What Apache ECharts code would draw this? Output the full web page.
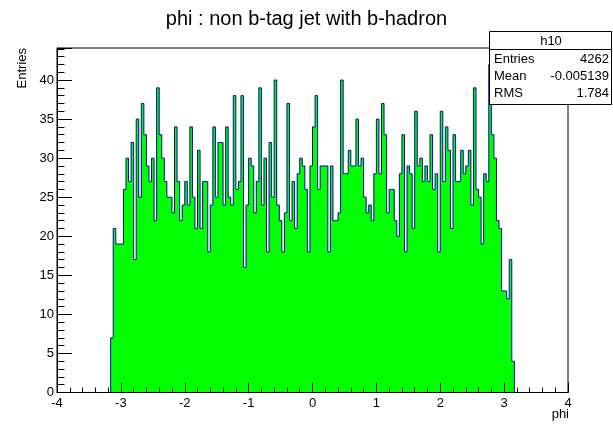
<!DOCTYPE html>
<html>
<head>
<meta charset="utf-8">
<script src="https://cdn.jsdelivr.net/npm/echarts@6/dist/echarts.min.js"></script>
<style>
html,body{margin:0;padding:0;background:#fff;}
#chart{width:613px;height:425px;}
</style>
</head>
<body>
<div id="chart"></div>
<script>
// Histogram h10: 200 bins from -4 to 4 (width 0.04); populated bins start at -3.16
const xRange = [-4, 4];
const firstBinEdge = -3.16;
const binWidth = 0.04;
const counts = [
  7, 21, 19, 19, 19, 26, 30, 27, 32, 17, 35, 25, 37, 33, 29, 27, 30, 22, 39, 33,
  30, 27, 25, 25, 23, 34, 27, 22, 24, 27, 24, 34, 25, 21, 31, 21, 27, 27, 18, 24,
  34, 25, 32, 32, 24, 34, 25, 24, 38, 26, 27, 38, 16,
  24, 30, 29, 23, 27, 39, 24, 30, 18, 32, 25, 40, 24, 22, 18, 23, 37, 22, 27, 21,
  28, 30, 29, 26, 18, 29, 34, 38, 26, 29, 29, 29, 18, 29, 22, 22, 23, 40, 28, 28,
  31, 29, 29, 35, 29, 30, 25, 23, 24, 22, 28, 35, 28, 37,
  33, 23, 26, 26, 22, 20, 28, 33, 18, 29, 28, 21, 36, 29, 30, 27, 29, 27, 33, 26,
  28, 18, 36, 27, 34, 31, 21, 33, 27, 27, 31, 28, 29, 31, 24, 39, 26, 25, 19, 28,
  27, 42, 33, 30, 22, 21,
  13, 13, 12, 17, 4
];
const titleText = 'phi : non b-tag jet with b-hadron';
const xTitle = 'phi';
const yTitle = 'Entries';
const statsName = 'h10';
const statsLabels = ['Entries', 'Mean', 'RMS'];
const statsValues = ['4262', '-0.005139', '1.784'];

const yMax = Math.max.apply(null, counts) * 1.05;

// step outline points: left edge of each bin with its count
const pts = [[firstBinEdge, 0]];
counts.forEach(function (c, i) {
  pts.push([+(firstBinEdge + i * binWidth).toFixed(4), c]);
});
pts.push([+(firstBinEdge + counts.length * binWidth).toFixed(4), 0]);

const FONT = "'Liberation Sans', Arial, Helvetica, sans-serif";
const chart = echarts.init(document.getElementById('chart'), null, {renderer: 'canvas'});

const statsElems = [
  {type: 'rect', z: 100, shape: {x: 489.5, y: 31.5, width: 122, height: 73},
   style: {fill: '#fff', stroke: '#000', lineWidth: 1}},
  {type: 'line', z: 101, shape: {x1: 489.5, y1: 49.5, x2: 611.5, y2: 49.5},
   style: {stroke: '#000', lineWidth: 1}},
  {type: 'text', z: 102, x: 551, y: 41,
   style: {text: statsName, font: '13px ' + FONT, fill: '#000', align: 'center', verticalAlign: 'middle'}}
];
statsLabels.forEach(function (lab, i) {
  const yy = 59 + i * 17.3;
  statsElems.push({type: 'text', z: 102, x: 494, y: yy,
    style: {text: lab, font: '13px ' + FONT, fill: '#000', align: 'left', verticalAlign: 'middle'}});
  statsElems.push({type: 'text', z: 102, x: 609, y: yy,
    style: {text: statsValues[i], font: '13px ' + FONT, fill: '#000', align: 'right', verticalAlign: 'middle'}});
});

const option = {
  animation: false,
  backgroundColor: '#fff',
  title: {
    text: titleText, left: 'center', top: 9, padding: 0,
    textStyle: {fontFamily: FONT, fontSize: 20, fontWeight: 'normal', color: '#000'}
  },
  grid: {left: 57, right: 45, top: 48, bottom: 32.5, show: true,
         borderColor: '#000', borderWidth: 1, backgroundColor: '#fff'},
  xAxis: {
    type: 'value', min: xRange[0], max: xRange[1], interval: 1, z: 5,
    axisLine: {show: true, onZero: false, lineStyle: {color: '#000', width: 1}},
    axisTick: {show: true, inside: true, length: 10, lineStyle: {color: '#000'}},
    minorTick: {show: true, splitNumber: 5, length: 5, lineStyle: {color: '#000'}},
    splitLine: {show: false},
    axisLabel: {color: '#000', fontFamily: FONT, fontSize: 13, margin: 4}
  },
  yAxis: [
    {
      type: 'value', min: 0, max: yMax, interval: 1, z: 5, position: 'left',
      axisLine: {show: true, onZero: false, lineStyle: {color: '#000', width: 1}},
      axisTick: {show: true, inside: true, length: 7.5, lineStyle: {color: '#000'}},
      splitLine: {show: false},
      axisLabel: {color: '#000', fontFamily: FONT, fontSize: 13, margin: 3,
        showMaxLabel: false,
        formatter: function (v) { return (Math.abs(v % 5) < 1e-9) ? String(Math.round(v)) : ''; }}
    },
    {
      type: 'value', min: 0, max: yMax, interval: 5, z: 5, position: 'left', offset: 0,
      axisLine: {show: false, onZero: false},
      axisTick: {show: true, inside: true, length: 15, lineStyle: {color: '#000'}},
      splitLine: {show: false},
      axisLabel: {show: false}
    }
  ],
  graphic: [
    {type: 'text', z: 50, x: 569, y: 414,
     style: {text: xTitle, font: '13px ' + FONT, fill: '#000', align: 'right', verticalAlign: 'middle'}},
    {type: 'text', z: 50, x: 22, y: 48, rotation: Math.PI / 2,
     style: {text: yTitle, font: '13px ' + FONT, fill: '#000', align: 'right', verticalAlign: 'middle'}}
  ].concat(statsElems),
  series: [{
    type: 'line', step: 'end', data: pts, showSymbol: false, symbol: 'none',
    xAxisIndex: 0, yAxisIndex: 0, z: 2,
    lineStyle: {color: '#0a0a9a', width: 1},
    areaStyle: {color: '#00ff00', opacity: 1},
    itemStyle: {color: '#0a0a9a'}
  }]
};
chart.setOption(option);
</script>
</body>
</html>
